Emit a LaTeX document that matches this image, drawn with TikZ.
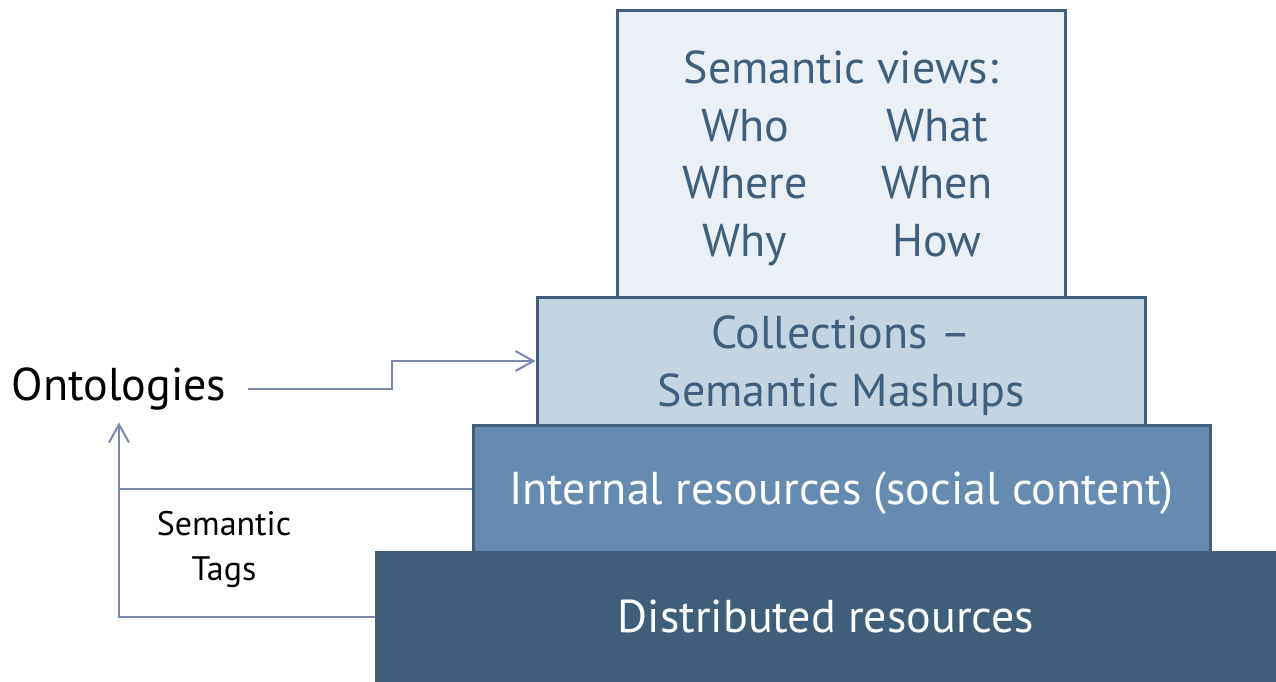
\documentclass[tikz,border=0pt]{standalone}
\usepackage{fontspec}
\setmainfont{PT Sans}
\usetikzlibrary{arrows.meta,calc}

\definecolor{viewfill}{HTML}{EAF0F5}
\definecolor{collfill}{HTML}{C5D4E1}
\definecolor{internfill}{HTML}{658CB0}
\definecolor{distfill}{HTML}{3E5E7A}
\definecolor{layerline}{HTML}{3F5F7C}
\definecolor{linkclr}{HTML}{7B86B1}

\begin{document}
\begin{tikzpicture}[x=1pt,y=-1pt]

		% Define basic styles
		\tikzset{
			layer/.style={
				rectangle, draw=layerline, line width=3pt,
				inner sep=0pt, align=center, text=layerline, text depth=0pt,
				font=\fontsize{46}{57.5}\selectfont
			},
			link/.style={
				draw=linkclr, line width=2pt
			},
			arrow/.style={
				link, -{Straight Barb[length=18pt,width=20pt,line width=2pt]}
			}
		}

		\useasboundingbox (0,0) rectangle (1276,681);

		% Nodes
		\node[layer, fill=viewfill, minimum width=448pt, minimum height=287pt] (views) at (841,153.5)
			{Semantic views:\\
			 \makebox[192pt]{Who}\makebox[192pt]{What}\\
			 \makebox[192pt]{Where}\makebox[192pt]{When}\\
			 \makebox[192pt]{Why}\makebox[192pt]{How}};
		\node[layer, fill=collfill, minimum width=608pt, minimum height=128pt] (coll) at (841,361)
			{Collections --\\Semantic Mashups};
		\node[layer, fill=internfill, text=white, minimum width=737pt, minimum height=127pt] (intern) at (841.5,488.5)
			{Internal resources (social content)};
		\node[layer, draw=distfill, fill=distfill, text=white, minimum width=900pt, minimum height=129pt] (dist) at (826,616.5)
			{Distributed resources};

		\node[font=\fontsize{46}{50}\selectfont, inner xsep=22pt, inner ysep=12pt] (onto) at (119,389) {Ontologies};
		\node[font=\fontsize{34}{45}\selectfont, align=center] (tags) at (224,549) {Semantic\\Tags};

		% Arrows
		\draw[arrow] (onto.east) -| ($(onto.east)!0.5!(coll.west)$) |- (coll.west);
		\draw[link] (intern.west) -- (intern.west -| onto.south);
		\draw[arrow] (dist.west) -| (onto.south);

	\end{tikzpicture}
\end{document}
